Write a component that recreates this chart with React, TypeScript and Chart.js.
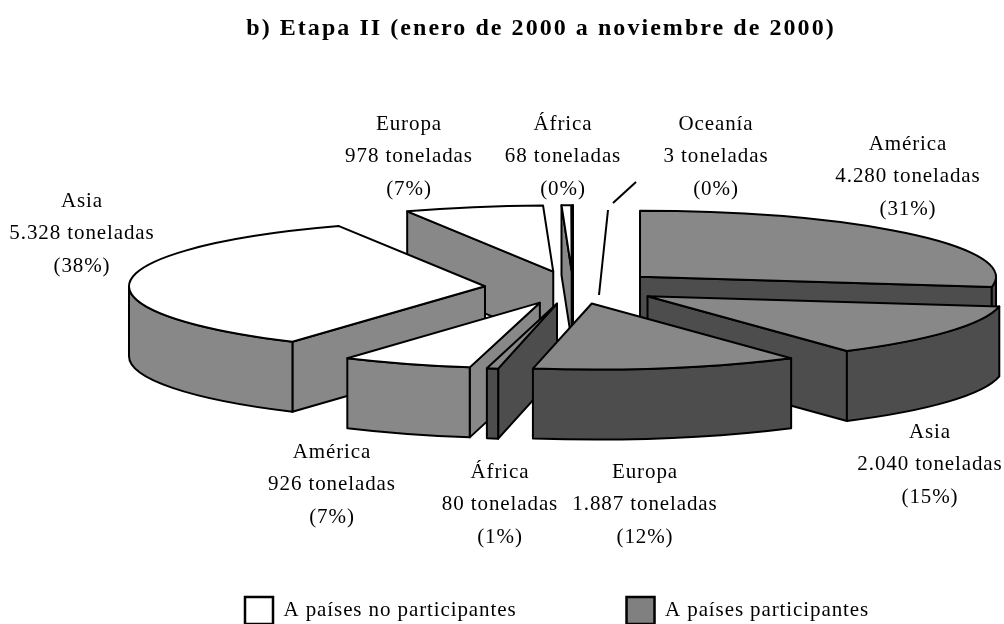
import React, { useEffect, useRef } from "react";
import { Chart, registerables } from "chart.js";

Chart.register(...registerables);

// ---- data ----
const titleText = "b) Etapa II (enero de 2000 a noviembre de 2000)";
const regions = ["América", "Asia", "Europa", "África", "América", "Asia", "Europa", "África", "Oceanía"];
const tonnes = [4280, 2040, 1887, 80, 926, 5328, 978, 68, 3];
const percents = ["31%", "15%", "12%", "1%", "7%", "38%", "7%", "0%", "0%"];
const groups = [1, 1, 1, 1, 0, 0, 0, 0, 0]; // 1 = participantes, 0 = no participantes
const legendNames = ["A países no participantes", "A países participantes"];

// ---- layout / style ----
const labelCentres = [
  [908, 144], [930, 432], [645, 472], [500, 472], [332, 452],
  [82, 201], [409, 124], [563, 124], [716, 124],
];
const paintOrder = [6, 7, 8, 0, 5, 1, 4, 3, 2];
const leaderLines = [
  [599, 295, 608, 210],
  [613, 203, 636, 182],
];
const FONT = '"Liberation Serif"';
const LETTER = "0.9px";
const LINE_PITCH = 32.7;
const RX = 356;
const RY = 66;
const DEPTH = 70;
const CENTRE_DX = 3.5;
const topFill = ["#ffffff", "#888888"];
const wallFill = ["#888888", "#4d4d4d"];

const fmt = (v: number) => String(v).replace(/\B(?=(\d{3})+(?!\d))/g, ".");

const pie3d = {
  id: "pie3d",
  beforeLayout(chart: any) {
    chart.ctx.letterSpacing = LETTER;
  },
  beforeDraw(chart: any) {
    chart.ctx.letterSpacing = LETTER;
  },
  beforeDatasetsDraw(chart: any) {
    const ctx = chart.ctx;
    const arcs = chart.getDatasetMeta(0).data;
    ctx.save();
    ctx.lineWidth = 2;
    ctx.lineJoin = "round";
    ctx.strokeStyle = "#000";
    const paint = (fill: string) => {
      ctx.fillStyle = fill;
      ctx.fill();
      ctx.stroke();
    };
    paintOrder.forEach((i) => {
      const a = arcs[i];
      const scale = RX / a.outerRadius;
      const ky = RY / RX;
      const mid = (a.startAngle + a.endAngle) / 2;
      const off = a.options.offset * scale;
      const ax = a.x + CENTRE_DX + Math.cos(mid) * off;
      const ay = a.y + Math.sin(mid) * off * ky;
      const rim = (t: number): [number, number] => [ax + Math.cos(t) * RX, ay + Math.sin(t) * RY];
      const g = groups[i];
      const radial = (t: number) => {
        const [x, y] = rim(t);
        ctx.beginPath();
        ctx.moveTo(ax, ay);
        ctx.lineTo(x, y);
        ctx.lineTo(x, y + DEPTH);
        ctx.lineTo(ax, ay + DEPTH);
        ctx.closePath();
        paint(wallFill[g]);
      };
      if (-Math.cos(a.startAngle) > 0) radial(a.startAngle);
      if (Math.cos(a.endAngle) > 0) radial(a.endAngle);
      const from = Math.max(a.startAngle, 0);
      const to = Math.min(a.endAngle, Math.PI);
      if (to > from) {
        ctx.beginPath();
        ctx.ellipse(ax, ay, RX, RY, 0, from, to);
        ctx.ellipse(ax, ay + DEPTH, RX, RY, 0, to, from, true);
        ctx.closePath();
        paint(wallFill[g]);
      }
      ctx.beginPath();
      ctx.moveTo(ax, ay);
      ctx.ellipse(ax, ay, RX, RY, 0, a.startAngle, a.endAngle);
      ctx.closePath();
      paint(topFill[g]);
    });
    ctx.restore();
    return false;
  },
  afterDraw(chart: any) {
    const ctx = chart.ctx;
    ctx.save();
    ctx.fillStyle = "#000";
    ctx.textAlign = "center";
    ctx.textBaseline = "middle";
    ctx.letterSpacing = "2.05px";
    ctx.font = `bold 24px ${FONT}`;
    ctx.fillText(titleText, 541, 29);
    ctx.letterSpacing = LETTER;
    ctx.font = `21px ${FONT}`;
    regions.forEach((name, i) => {
      const [x, y] = labelCentres[i];
      ctx.fillText(name, x, y);
      ctx.fillText(`${fmt(tonnes[i])} toneladas`, x, y + LINE_PITCH);
      ctx.fillText(`(${percents[i]})`, x, y + 2 * LINE_PITCH);
    });
    ctx.strokeStyle = "#000";
    ctx.lineWidth = 2;
    leaderLines.forEach(([x1, y1, x2, y2]) => {
      ctx.beginPath();
      ctx.moveTo(x1, y1);
      ctx.lineTo(x2, y2);
      ctx.stroke();
    });
    ctx.restore();
  },
};

export default function App() {
  const ref = useRef<HTMLCanvasElement>(null);
  useEffect(() => {
    document.body.style.margin = "0";
    const chart = new Chart(ref.current!, {
      type: "pie",
      data: {
        labels: regions,
        datasets: [
          {
            data: tonnes,
            offset: 44,
            borderWidth: 0,
            backgroundColor: groups.map((g) => topFill[g]),
          },
        ],
      },
      options: {
        animation: false,
        responsive: false,
        layout: { padding: { left: 135, right: 0, top: 88, bottom: -10 } },
        plugins: {
          title: { display: false },
          tooltip: { enabled: false },
          legend: {
            display: true,
            position: "bottom",
            align: "start",
            labels: {
              boxWidth: 28,
              boxHeight: 27,
              padding: 110,
              color: "#000",
              font: { family: FONT, size: 21 },
              generateLabels: () =>
                legendNames.map((text, i) => ({
                  text,
                  fillStyle: i === 0 ? "#ffffff" : "#808080",
                  strokeStyle: "#000",
                  lineWidth: 2.5,
                  hidden: false,
                  datasetIndex: 0,
                })),
            },
          },
        },
      },
      plugins: [pie3d],
    } as any);
    return () => chart.destroy();
  }, []);
  return <canvas ref={ref} width={1004} height={624} style={{ display: "block", width: 1004, height: 624 }} />;
}
